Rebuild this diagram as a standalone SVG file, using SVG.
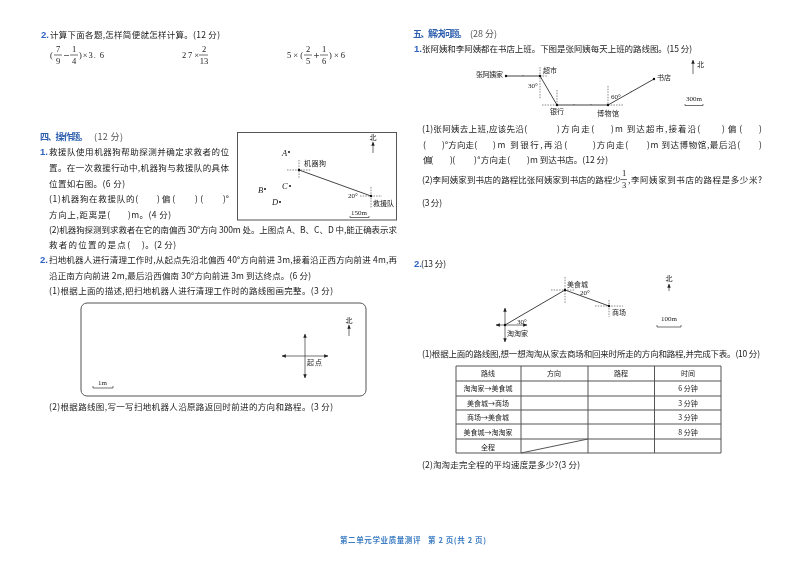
<svg xmlns="http://www.w3.org/2000/svg" width="800" height="566" viewBox="0 0 800 566">
<style>
text{font-family:"Noto Sans CJK SC","Liberation Serif",sans-serif;font-size:8.5px;fill:#222;white-space:pre}
.h{font-size:9px}
.bl{fill:#2f5fae;font-weight:700}
.g{fill:#555}
.n{fill:#2f62c0;font-weight:700;font-family:"Liberation Sans",sans-serif;font-size:9.5px}
.s{font-size:7px}
.m{font-family:"Liberation Serif",serif;font-size:8.5px}
.ms{font-family:"Liberation Serif",serif;font-size:7px}
.i{font-family:"Liberation Serif",serif;font-style:italic;font-size:8.5px}
.c{text-anchor:middle}
.f{fill:#3f7fc4;font-size:7.5px;font-weight:700}
.l{stroke:#444;stroke-width:1;fill:none}
.t{stroke:#333;stroke-width:.7;fill:none}
.d{stroke:#555;stroke-width:.7;stroke-dasharray:1.500 1.200;fill:none}
.b{stroke:#555;stroke-width:1;fill:none}
.p{fill:#111}
.all{filter:url(#soft)}
</style>
<defs>
<filter id="soft" x="0" y="0" width="100%" height="100%"><feGaussianBlur stdDeviation="0.3"/></filter>
<marker id="a" viewBox="0 0 6 6" refX="5.500" refY="3" markerWidth="6" markerHeight="6" orient="auto-start-reverse"><path d="M0 .5L6 3L0 5.500Z" fill="#222"/></marker>
</defs>
<rect width="800" height="566" fill="#fff"/>
<g class="all">
<g id="q2-calc">
<text class="n" x="41" y="38">2.</text>
<text x="50" y="38" textLength="170">计算下面各题,怎样简便就怎样计算。(12 分)</text>
<text class="m" x="50" y="58">(</text><text class="m c" x="58" y="52">7</text><path class="t" d="M54 55h8"/><text class="m c" x="58" y="64">9</text>
<path class="t" d="M64 55.500h5"/><text class="m c" x="74" y="52">1</text><path class="t" d="M70 55h8"/><text class="m c" x="74" y="64">4</text>
<text class="m" x="79" y="58" textLength="25">)×3. 6</text>
<text class="m" x="182" y="58" textLength="17">27×</text><text class="m c" x="204" y="52">2</text><path class="t" d="M199 55h9"/><text class="m c" x="204" y="64">13</text>
<text class="m" x="287" y="58" textLength="16">5×(</text><text class="m c" x="308" y="52">2</text><path class="t" d="M304 55h8"/><text class="m c" x="308" y="64">5</text>
<path class="t" d="M314 55.500h5M316.500 53v5"/><text class="m c" x="324" y="52">1</text><path class="t" d="M320 55h8"/><text class="m c" x="324" y="64">6</text>
<text class="m" x="329" y="58" textLength="16">)×6</text>
</g>
<g id="section-4">
<text class="h bl" x="40" y="140" textLength="48">四、操作题。</text><text class="h g" x="94" y="140" textLength="29">(12 分)</text>
<text class="n" x="40" y="155">1.</text>
<text x="49" y="155" textLength="180">救援队使用机器狗帮助探测并确定求救者的位</text>
<text x="49" y="171" textLength="180">置。在一次救援行动中,机器狗与救援队的具体</text>
<text x="49" y="187" textLength="76">位置如右图。(6 分)</text>
<text x="49" y="202" textLength="89">(1)机器狗在救援队的(</text><text x="157" y="202" textLength="18">)偏(</text><text x="195" y="202" textLength="8">)(</text><text x="223" y="202" textLength="6">)°</text>
<text x="49" y="218" textLength="61">方向上,距离是(</text><text x="128" y="218" textLength="43">)m。(4 分)</text>
<text x="49" y="233" textLength="348">(2)机器狗探测到求救者在它的南偏西 30°方向 300m 处。上图点 A、B、C、D 中,能正确表示求</text>
<text x="49" y="248" textLength="81">救者的位置的是点(</text><text x="142" y="248" textLength="34">)。(2 分)</text>
<text class="n" x="40" y="263">2.</text>
<text x="49" y="263" textLength="348">扫地机器人进行清理工作时,从起点先沿北偏西 40°方向前进 3m,接着沿正西方向前进 4m,再</text>
<text x="49" y="279" textLength="262">沿正南方向前进 2m,最后沿西偏南 30°方向前进 3m 到达终点。(6 分)</text>
<text x="49" y="294" textLength="284">(1)根据上面的描述,把扫地机器人进行清理工作时的路线图画完整。(3 分)</text>
<text x="49" y="410" textLength="284">(2)根据路线图,写一写扫地机器人沿原路返回时前进的方向和路程。(3 分)</text>
</g>
<g id="rescue-map">
<rect class="b" x="237.500" y="132.500" width="159" height="87.500"/>
<text class="s c" x="373" y="140">北</text>
<path class="t" d="M373 153V142" marker-end="url(#a)"/>
<text class="i" x="282" y="156">A</text><circle class="p" cx="289" cy="152" r="1"/>
<text class="i" x="258" y="193">B</text><circle class="p" cx="265" cy="189" r="1"/>
<text class="i" x="282" y="189">C</text><circle class="p" cx="290" cy="186" r="1"/>
<text class="i" x="272" y="205">D</text><circle class="p" cx="280" cy="202" r="1"/>
<path class="d" d="M287 170H311M299 160V178M360 196H382M371 187V208"/>
<path class="l" d="M299 170L371 196"/>
<circle class="p" cx="299" cy="170" r="1.200"/><circle class="p" cx="371" cy="196" r="1.200"/>
<text class="s" x="304" y="166" textLength="22">机器狗</text>
<text class="ms" x="348" y="198">20°</text>
<text class="s" x="373" y="206" textLength="21">救援队</text>
<text class="ms" x="351" y="215">150m</text>
<path class="t" d="M350 216v1.500h19V216"/>
</g>
<g id="robot-map">
<rect class="b" x="81" y="303" width="285" height="93" rx="6"/>
<text class="s c" x="349" y="323">北</text>
<path class="t" d="M349 336V325" marker-end="url(#a)"/>
<path class="t" d="M305 334V378" marker-start="url(#a)" marker-end="url(#a)"/>
<path class="t" d="M282 356H328" marker-start="url(#a)" marker-end="url(#a)"/>
<text class="s" x="307" y="365" textLength="15">起点</text>
<text class="ms" x="98" y="385">1m</text>
<path class="t" d="M93 386v2h20v-2"/>
</g>
<g id="section-5">
<text class="h bl" x="413" y="37" textLength="54">五、解决问题。</text><text class="h g" x="470" y="37" textLength="27">(28 分)</text>
<text class="n" x="414" y="52">1.</text>
<text x="422" y="52" textLength="270">张阿姨和李阿姨都在书店上班。下图是张阿姨每天上班的路线图。(15 分)</text>
<text x="422" y="132" textLength="105">(1)张阿姨去上班,应该先沿(</text><text x="557" y="132" textLength="37">)方向走(</text><text x="611" y="132" textLength="89">)m 到达超市,接着沿(</text><text x="722" y="132" textLength="20">)偏(</text><text x="759" y="132">)</text>
<text x="423" y="148">(</text><text x="442" y="148" textLength="35">)°方向走(</text><text x="493" y="148" textLength="74">)m 到银行,再沿(</text><text x="593" y="148" textLength="35">)方向走(</text><text x="647" y="148" textLength="93">)m 到达博物馆,最后沿(</text><text x="759" y="148">)</text>
<text x="423" y="163" textLength="10">偏(</text><text x="450" y="163" textLength="5">)(</text><text x="474" y="163" textLength="36">)°方向走(</text><text x="527" y="163" textLength="81">)m 到达书店。(12 分)</text>
<text x="422" y="183" textLength="199">(2)李阿姨家到书店的路程比张阿姨家到书店的路程少</text>
<text class="m c" x="624" y="176">1</text><path class="t" d="M621 179.500h6"/><text class="m c" x="624" y="188">3</text>
<text x="628" y="183" textLength="134">,李阿姨家到书店的路程是多少米?</text>
<text x="422" y="206" textLength="20">(3 分)</text>
</g>
<g id="route-map">
<path class="d" d="M540 67V99M540 76H548M557 90V105M542 105H557M608 86V105M608 105H623"/>
<path class="l" d="M506 76H540L557 105H608L654 79"/>
<path class="t" d="M523 75v1M574 104v1M591 104v1M631 91l.6 1"/>
<circle class="p" cx="506" cy="76" r="1.200"/><circle class="p" cx="540" cy="76" r="1.200"/><circle class="p" cx="557" cy="105" r="1.200"/><circle class="p" cx="608" cy="105" r="1.200"/><circle class="p" cx="654" cy="79" r="1.200"/>
<text class="s" x="476" y="77" textLength="27">张阿姨家</text>
<text class="s" x="543" y="73" textLength="14">超市</text>
<text class="ms" x="528" y="88">30°</text>
<text class="s" x="550" y="114" textLength="14">银行</text>
<text class="s" x="597" y="116" textLength="22">博物馆</text>
<text class="ms" x="611" y="99">60°</text>
<text class="s" x="657" y="80" textLength="14">书店</text>
<path class="t" d="M693 74V60" marker-end="url(#a)"/>
<text class="s" x="697" y="67">北</text>
<text class="ms" x="686" y="101">300m</text>
<path class="t" d="M685 104v1.500h18V104"/>
</g>
<g id="q2-route">
<text class="n" x="414" y="267">2.</text>
<text x="421" y="267" textLength="25">(13 分)</text>
<path class="d" d="M551 290H575M565 277V303M595 306H623M609 300V317"/>
<path class="l" d="M505 325L565 290L609 306"/>
<path class="t" d="M505 308V342" marker-start="url(#a)" marker-end="url(#a)"/>
<path class="t" d="M496 325H527" marker-start="url(#a)" marker-end="url(#a)"/>
<circle class="p" cx="505" cy="325" r="1.200"/><circle class="p" cx="565" cy="290" r="1.200"/><circle class="p" cx="609" cy="306" r="1.200"/>
<text class="s" x="567" y="287" textLength="21">美食城</text>
<text class="ms" x="580" y="295">20°</text>
<text class="s" x="612" y="315" textLength="14">商场</text>
<text class="ms" x="517" y="324">30°</text>
<text class="s" x="507" y="336" textLength="21">淘淘家</text>
<text class="s c" x="669" y="281">北</text>
<path class="t" d="M669 291V284" marker-end="url(#a)"/>
<text class="ms" x="661" y="321">100m</text>
<path class="t" d="M657 325v2h24v-2"/>
<text x="422" y="357" textLength="338">(1)根据上面的路线图,想一想淘淘从家去商场和回来时所走的方向和路程,并完成下表。(10 分)</text>
</g>
<g id="table">
<path class="b" d="M456 366H721V453H456ZM521 366V453M588 366V453M654.500 366V453M456 381H721M456 396H721M456 410H721M456 424H721M456 439H721M521 453L588 439"/>
<text class="s c" x="488" y="376">路线</text><text class="s c" x="554" y="376">方向</text><text class="s c" x="621" y="376">路程</text><text class="s c" x="688" y="376">时间</text>
<text class="s c" x="488" y="391">淘淘家→美食城</text><text class="s c" x="688" y="391">6 分钟</text>
<text class="s c" x="488" y="406">美食城→商场</text><text class="s c" x="688" y="406">3 分钟</text>
<text class="s c" x="488" y="420">商场→美食城</text><text class="s c" x="688" y="420">3 分钟</text>
<text class="s c" x="488" y="435">美食城→淘淘家</text><text class="s c" x="688" y="435">8 分钟</text>
<text class="s c" x="488" y="450">全程</text>
<text x="422" y="468" textLength="158">(2)淘淘走完全程的平均速度是多少?(3 分)</text>
</g>
<g id="footer">
<text class="f" x="340" y="543" textLength="146">第二单元学业质量测评   第 2 页(共 2 页)</text>
</g>
</g>
</svg>
